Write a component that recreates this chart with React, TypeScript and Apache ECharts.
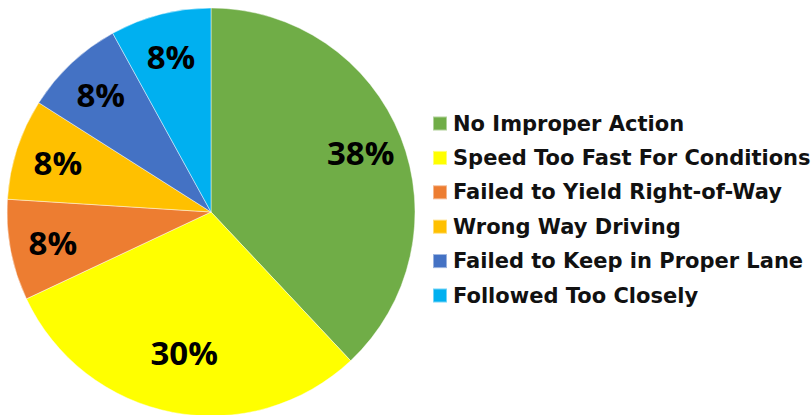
import React, { useEffect, useRef } from "react";
import * as echarts from "echarts";

const categories = [
  "No Improper Action",
  "Speed Too Fast For Conditions",
  "Failed to Yield Right-of-Way",
  "Wrong Way Driving",
  "Failed to Keep in Proper Lane",
  "Followed Too Closely",
];
const values = [38, 30, 8, 8, 8, 8];
const colors = ["#70AD47", "#FFFF00", "#ED7D31", "#FFC000", "#4472C4", "#00B0F0"];

export default function App() {
  const ref = useRef<HTMLDivElement>(null);
  useEffect(() => {
    if (!ref.current) return;
    const chart = echarts.init(ref.current, undefined, { renderer: "svg" });
    const data = categories.map((name, i) => ({
      name,
      value: values[i],
      itemStyle: { color: colors[i] },
    }));
    const labelStyle = {
      show: true,
      position: "inside",
      formatter: (p: any) => p.value + "%",
      fontFamily: "Open Sans",
      fontWeight: "bold",
      fontSize: 33,
      color: "#000000",
    };
    const overlay = (r0: number, showIdx: (i: number) => boolean, suffix: string) => ({
      type: "pie",
      center: [211, 212],
      radius: [r0, 204],
      startAngle: 90,
      clockwise: true,
      silent: true,
      legendHoverLink: false,
      itemStyle: { color: "rgba(0,0,0,0)" },
      label: labelStyle,
      labelLine: { show: false },
      emphasis: { disabled: true },
      data: categories.map((name, i) => ({
        name: name + suffix,
        value: values[i],
        label: { show: showIdx(i) },
      })),
    });
    chart.setOption({
      animation: false,
      backgroundColor: "#ffffff",
      legend: {
        orient: "vertical",
        left: 427,
        top: 108,
        itemWidth: 14,
        itemHeight: 14,
        itemGap: 13.4,
        icon: "rect",
        textStyle: {
          fontFamily: "DejaVu Sans",
          fontWeight: "bold",
          fontSize: 21,
          lineHeight: 20,
          color: "#111111",
          padding: [0, 0, 0, 1],
        },
        data: categories,
      },
      series: [
        {
          type: "pie",
          center: [211, 212],
          radius: [0, 204],
          startAngle: 90,
          clockwise: true,
          label: { show: false },
          labelLine: { show: false },
          itemStyle: { borderColor: "rgba(255,255,255,0.45)", borderWidth: 1 },
          emphasis: { disabled: true },
          data,
        },
        overlay(112, (i) => i !== 1, " "),
        overlay(76, (i) => i === 1, "  "),
      ],
    });
    return () => chart.dispose();
  }, []);
  return (
    <div
      ref={ref}
      style={{ position: "fixed", left: 0, top: 0, width: 812, height: 415 }}
    />
  );
}
